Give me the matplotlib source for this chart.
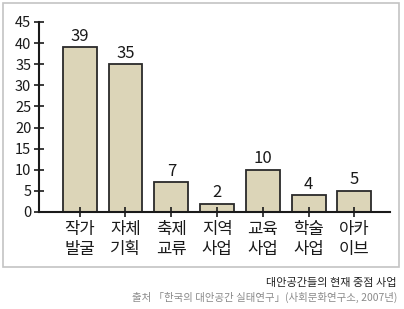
import matplotlib
matplotlib.use("Agg")
import matplotlib.pyplot as plt
from matplotlib.patches import Rectangle

plt.rcParams['font.family'] = ['Noto Sans CJK KR', 'DejaVu Sans']

# 데이터
categories = ["작가\n발굴", "자체\n기획", "축제\n교류", "지역\n사업", "교육\n사업", "학술\n사업", "아카\n이브"]
values = [39, 35, 7, 2, 10, 4, 5]
yticks = [0, 5, 10, 15, 20, 25, 30, 35, 40, 45]

title = "대안공간들의 현재 중점 사업"
source = "출처 「한국의 대안공간 실태연구」(사회문화연구소, 2007년)"

fig = plt.figure(figsize=(4.04, 3.09), dpi=100)
ax = fig.add_axes([0.0965, 0.314, 0.869, 0.615])

x = list(range(len(categories)))
ax.bar(x, values, width=0.74, color="#dcd5b8", edgecolor="#2a2a2a", linewidth=1.3)

for xi, v in zip(x, values):
    ax.text(xi, v + 0.6, str(v), ha="center", va="bottom", fontsize=12, color="#1a1a1a")

ax.set_xlim(-0.89, 6.78)
ax.set_ylim(0, 45)
ax.set_yticks(yticks)
ax.set_yticklabels([str(t) for t in yticks], fontsize=10.5, color="#1a1a1a")
ax.set_xticks(x)
ax.set_xticklabels(categories, fontsize=12, color="#1a1a1a", linespacing=1.2)
ax.tick_params(axis="both", direction="inout", length=7, width=1.2, color="#1a1a1a")
ax.tick_params(axis="y", pad=2)
ax.tick_params(axis="x", pad=3)

for s in ["top", "right"]:
    ax.spines[s].set_visible(False)
for s in ["left", "bottom"]:
    ax.spines[s].set_linewidth(1.5)
    ax.spines[s].set_color("#1a1a1a")

# 테두리 상자
fig.patches.append(Rectangle((3 / 404, 1 - 267 / 309), 396 / 404, 264 / 309,
                             transform=fig.transFigure, fill=False,
                             edgecolor="#c4c4c4", linewidth=1.2))

fig.text(397 / 404, 1 - 283 / 309, title, ha="right", va="center", fontsize=8, color="#222222")
fig.text(397 / 404, 1 - 297 / 309, source, ha="right", va="center", fontsize=7.5, color="#8a8a8a")

fig.savefig("out.png", dpi=100)
